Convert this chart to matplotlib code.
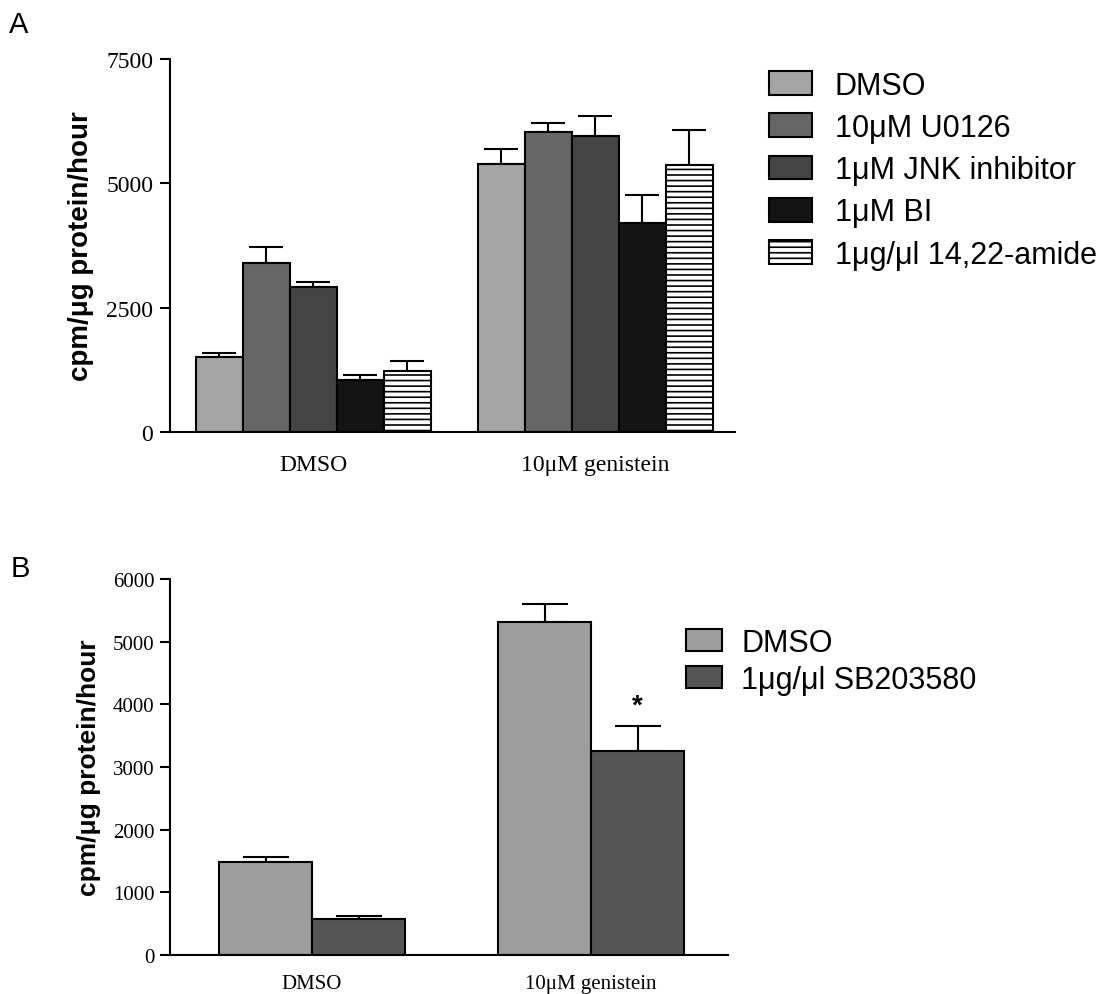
import numpy as np
import matplotlib
matplotlib.use('Agg')
import matplotlib.pyplot as plt
from matplotlib.patches import Patch

# panel A data
groups_a = ['DMSO', '10\u03bcM genistein']
treat_a = ['DMSO', '10\u03bcM U0126', '1\u03bcM JNK inhibitor', '1\u03bcM BI',
           '1\u03bcg/\u03bcl 14,22-amide']
vals_dmso_a = [1500, 3400, 2910, 1050, 1230]
err_dmso_a = [85, 320, 100, 100, 200]
vals_gen_a = [5390, 6030, 5950, 4200, 5370]
err_gen_a = [300, 180, 400, 560, 700]
colors_a = ['#a4a4a4', '#666666', '#444444', '#141414', 'white']
hatch_a = ['', '', '', '', '---']

# panel B data
groups_b = ['DMSO', '10\u03bcM genistein']
treat_b = ['DMSO', '1\u03bcg/\u03bcl SB203580']
vals_dmso_b = [1483, 574]
err_dmso_b = [80, 45]
vals_gen_b = [5310, 3254]
err_gen_b = [290, 400]
colors_b = ['#9d9d9d', '#555555']

serif = 'Liberation Serif'
sans = 'Liberation Sans'
plt.rcParams['hatch.linewidth'] = 1.2

fig = plt.figure(figsize=(11.09, 9.95), dpi=100)

# ---------------- panel A
axa = fig.add_axes([0.1533, 0.5648, 0.5095, 0.375])
n = len(treat_a)
handles = []
for i in range(n):
    xs = [i, i + n + 1]
    ys = [vals_dmso_a[i], vals_gen_a[i]]
    es = [err_dmso_a[i], err_gen_a[i]]
    axa.bar(xs, ys, width=1.0, color=colors_a[i], edgecolor='black',
            linewidth=1.5, hatch=hatch_a[i], zorder=2)
    axa.errorbar(xs, ys, yerr=[[0, 0], es], fmt='none', ecolor='black',
                 elinewidth=1.5, capsize=12, capthick=1.5, zorder=1)
    handles.append(Patch(facecolor=colors_a[i], edgecolor='black',
                         linewidth=1.5, hatch=hatch_a[i]))

axa.set_xlim(-1.053, 10.97)
axa.set_ylim(0, 7500)
axa.set_yticks([0, 2500, 5000, 7500])
axa.set_xticks([(n - 1) / 2, n + 1 + (n - 1) / 2])
axa.set_xticklabels(groups_a, fontfamily=serif, fontsize=17)
for lab in axa.get_yticklabels():
    lab.set_fontfamily(serif)
    lab.set_fontsize(17)
axa.tick_params(axis='x', length=0, pad=16)
axa.tick_params(axis='y', length=7, width=1.5, pad=5)
axa.spines['top'].set_visible(False)
axa.spines['right'].set_visible(False)
axa.spines['left'].set_linewidth(1.5)
axa.spines['bottom'].set_linewidth(1.5)
axa.set_ylabel('cpm/\u03bcg protein/hour', fontfamily=sans, fontweight='bold',
               fontsize=20, labelpad=9)
fig.legend(handles, treat_a, loc='upper left', bbox_to_anchor=(0.693, 0.928),
           frameon=False, prop={'family': sans, 'size': 22},
           handlelength=1.41, handleheight=0.82, handletextpad=0.75,
           labelspacing=0.4, borderpad=0, borderaxespad=0)
fig.text(0.008, 0.975, 'A', fontfamily=sans, fontsize=21, va='center')

# ---------------- panel B
axb = fig.add_axes([0.1533, 0.0392, 0.503, 0.378])
m = len(treat_b)
handles_b = []
for i in range(m):
    xs = [i, i + m + 1]
    ys = [vals_dmso_b[i], vals_gen_b[i]]
    es = [err_dmso_b[i], err_gen_b[i]]
    axb.bar(xs, ys, width=1.0, color=colors_b[i], edgecolor='black',
            linewidth=1.5, zorder=2)
    axb.errorbar(xs, ys, yerr=[[0, 0], es], fmt='none', ecolor='black',
                 elinewidth=1.5, capsize=16.5, capthick=1.5, zorder=1)
    handles_b.append(Patch(facecolor=colors_b[i], edgecolor='black',
                           linewidth=1.5))
axb.text(m + 1 + 1, vals_gen_b[1] + err_gen_b[1] + 110, '*', ha='center',
         va='bottom', fontfamily=sans, fontsize=20, fontweight='bold')

axb.set_xlim(-1.027, 4.97)
axb.set_ylim(0, 6000)
axb.set_yticks(range(0, 6001, 1000))
axb.set_xticks([(m - 1) / 2, m + 1 + (m - 1) / 2])
axb.set_xticklabels(groups_b, fontfamily=serif, fontsize=15)
for lab in axb.get_yticklabels():
    lab.set_fontfamily(serif)
    lab.set_fontsize(15)
axb.tick_params(axis='x', length=0, pad=14)
axb.tick_params(axis='y', length=7, width=1.5, pad=4)
axb.spines['top'].set_visible(False)
axb.spines['right'].set_visible(False)
axb.spines['left'].set_linewidth(1.5)
axb.spines['bottom'].set_linewidth(1.5)
axb.set_ylabel('cpm/\u03bcg protein/hour', fontfamily=sans, fontweight='bold',
               fontsize=19, labelpad=9)
fig.legend(handles_b, treat_b, loc='upper left', bbox_to_anchor=(0.619, 0.368),
           frameon=False, prop={'family': sans, 'size': 22},
           handlelength=1.15, handleheight=0.72, handletextpad=0.65,
           labelspacing=0.22, borderpad=0, borderaxespad=0)
fig.text(0.01, 0.428, 'B', fontfamily=sans, fontsize=21, va='center')

fig.savefig('out.png', dpi=100, facecolor='white')
